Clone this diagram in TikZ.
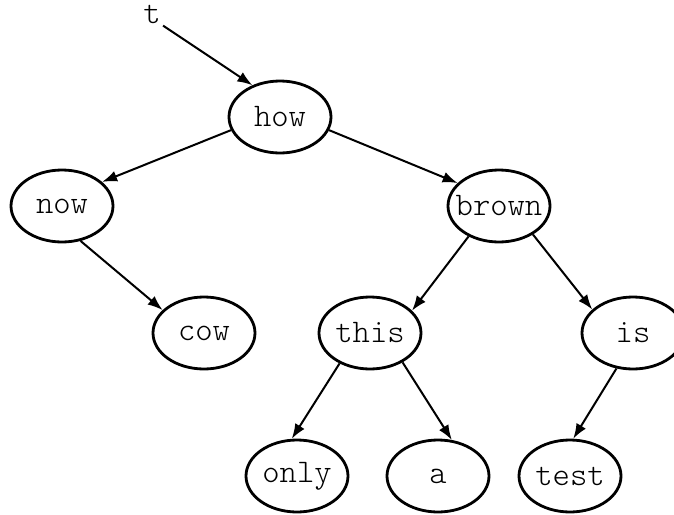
\documentclass[tikz,border=0pt]{standalone}
\usetikzlibrary{shapes.geometric, arrows.meta}

\begin{document}
\begin{tikzpicture}[x=0.5pt,y=-0.5pt,
	word/.style={ellipse,draw,line width=1.4pt,minimum width=51pt,minimum height=36pt,inner xsep=-5pt,inner ysep=0pt,font=\ttfamily\fontseries{l}\fontsize{16.5}{19}\selectfont},
	link/.style={line width=1pt,-{Latex[length=7.5pt,width=5.5pt]}}]
	\useasboundingbox (0,0) rectangle (674,514);
	\node[font=\ttfamily\fontseries{l}\fontsize{16.5}{19}\selectfont,inner sep=1pt](t) at (152,14){t};
	\node[word](how) at (280,117){how};
	\node[word](now) at (62,206){now};
	\node[word](brown) at (499,206){brown};
	\node[word](cow) at (204,333){cow};
	\node[word](this) at (370,333){this};
	\node[word](is) at (633,333){is};
	\node[word](only) at (297,476){only};
	\node[word](a) at (438,476){a};
	\node[word](test) at (570,476){test};
	\draw[link](t.south east)--(how.131);
	\draw[link](how.195)--(now.31);
	\draw[link](how.-15)--(brown.151);
	\draw[link](now.-62)--(cow.151);
	\draw[link](brown.-135)--(this.28);
	\draw[link](brown.-40)--(is.150);
	\draw[link](this.-135)--(only.98);
	\draw[link](this.-42)--(a.69);
	\draw[link](is.-115)--(test.85);
\end{tikzpicture}
\end{document}
